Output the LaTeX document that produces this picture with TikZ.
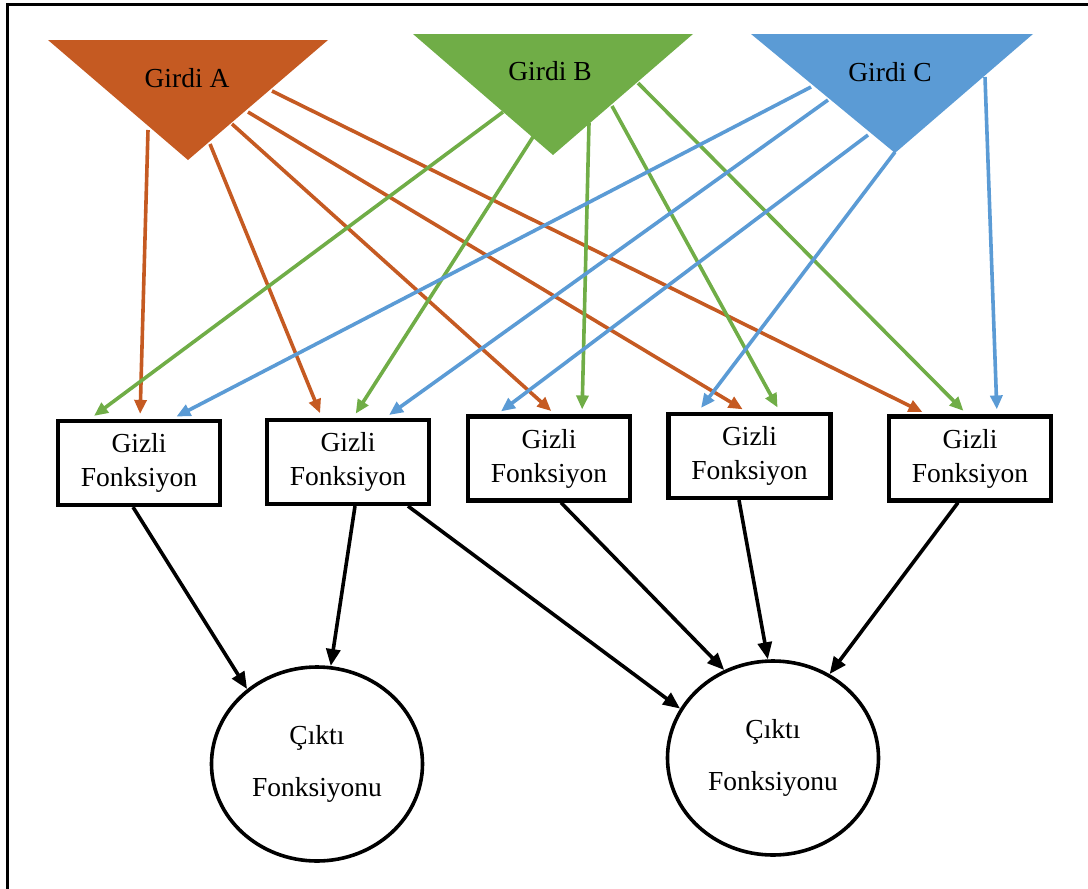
\documentclass[tikz,border=0pt]{standalone}
\usepackage{fontspec}
\setmainfont{Liberation Serif}
\usetikzlibrary{arrows.meta,shapes.geometric}
\definecolor{cA}{HTML}{C55A22}
\definecolor{cB}{HTML}{70AD47}
\definecolor{cC}{HTML}{5B9BD5}
\begin{document}
\begin{tikzpicture}[x=1pt,y=-1pt,
  hbox/.style={draw,line width=4.2pt,minimum width=162pt,minimum height=84pt,inner sep=0pt,align=center,font=\fontsize{27.5}{34}\selectfont},
  obox/.style={draw,ellipse,line width=3.6pt,minimum width=211pt,minimum height=194pt,inner sep=0pt,align=center,font=\fontsize{27.5}{52}\selectfont},
  tlabel/.style={font=\fontsize{27.5}{33}\selectfont,inner sep=0pt},
  carrow/.style={line width=3.6pt,-{Triangle[length=14pt,width=12pt]},shorten >=5pt},
  ca/.style={carrow,cA},
  cb/.style={carrow,cB},
  cc/.style={carrow,cC},
  karrow/.style={line width=3.6pt,-{Triangle[length=17pt,width=14pt]}},
  frame/.style={line width=3pt}
]
\useasboundingbox (0,0) rectangle (1088,889);
\draw[frame] (1092,4) -- (7,4) -- (7,893);

% hidden function boxes
\node[hbox] (h1) at (139,463) {Gizli\\Fonksiyon};
\node[hbox] (h2) at (348,462) {Gizli\\Fonksiyon};
\node[hbox] (h3) at (549,458.5) {Gizli\\Fonksiyon};
\node[hbox] (h4) at (749.5,456) {Gizli\\Fonksiyon};
\node[hbox] (h5) at (970,458.5) {Gizli\\Fonksiyon};

% output functions
\node[obox] (o1) at (317,764) {Çıktı\\Fonksiyonu};
\node[obox] (o2) at (773,758) {Çıktı\\Fonksiyonu};

% start coordinates on the input triangles
\coordinate (a1) at (148,130);
\coordinate (a2) at (210,144);
\coordinate (a3) at (232,124);
\coordinate (a4) at (248,112);
\coordinate (a5) at (272,91);
\coordinate (b1) at (503,112);
\coordinate (b2) at (533,137);
\coordinate (b3) at (589,123);
\coordinate (b4) at (612,106);
\coordinate (b5) at (638,83);
\coordinate (c1) at (811,87);
\coordinate (c2) at (828,100);
\coordinate (c3) at (868,135);
\coordinate (c4) at (895,152);
\coordinate (c5) at (985,77);

% colored connectors
\draw[ca] (a1) -- (140,0 |- h1.north);
\draw[ca] (a2) -- (322,0 |- h2.north);
\draw[ca] (a3) -- (555,0 |- h3.north);
\draw[ca] (a4) -- (747,0 |- h4.north);
\draw[ca] (a5) -- (927,0 |- h5.north);
\draw[cb] (b1) -- (90,0 |- h1.north);
\draw[cb] (b2) -- (353,0 |- h2.north);
\draw[cb] (b3) -- (582,0 |- h3.north);
\draw[cb] (b4) -- (780,0 |- h4.north);
\draw[cb] (b5) -- (967,0 |- h5.north);
\draw[cc] (c1) -- (172,0 |- h1.north);
\draw[cc] (c2) -- (385,0 |- h2.north);
\draw[cc] (c3) -- (497,0 |- h3.north);
\draw[cc] (c4) -- (698,0 |- h4.north);
\draw[cc] (c5) -- (997,0 |- h5.north);

% input triangles
\fill[cA] (48,40) -- (328,40) -- (188,160) -- cycle;
\fill[cB] (413,34) -- (693,34) -- (553,155) -- cycle;
\fill[cC] (751,34) -- (1033,34) -- (895,153) -- cycle;
\node[tlabel] (gA) at (187,78) {Girdi A};
\node[tlabel] (gB) at (550,71) {Girdi B};
\node[tlabel] (gC) at (890,72) {Girdi C};

% black connectors
\draw[karrow] (133,0 |- h1.south) -- (o1.133);
\draw[karrow] (355,0 |- h2.south) -- (o1.82);
\draw[karrow] (408,0 |- h2.south) -- (o2.152);
\draw[karrow] (561,0 |- h3.south) -- (o2.119);
\draw[karrow] (739,0 |- h4.south) -- (o2.93);
\draw[karrow] (958,0 |- h5.south) -- (o2.56);
\end{tikzpicture}
\end{document}
